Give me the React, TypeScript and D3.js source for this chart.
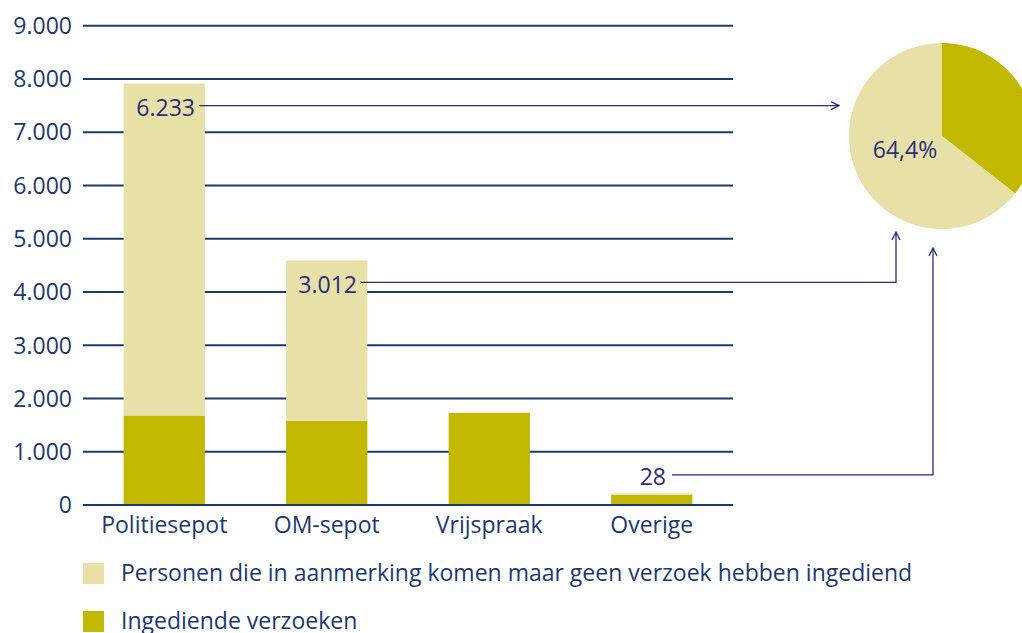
import * as d3 from 'd3'

const categories = ['Politiesepot', 'OM-sepot', 'Vrijspraak', 'Overige']
// Ingediende verzoeken (dark segment)
const ingediend = [1680, 1580, 1730, 190]
// Personen die in aanmerking komen maar geen verzoek hebben ingediend (light segment)
const geenVerzoek = [6233, 3012, 0, 28]
const yTicks = [0, 1000, 2000, 3000, 4000, 5000, 6000, 7000, 8000, 9000]
// pie shares: ingediend vs geen verzoek
const pieShares = [35.6, 64.4]
const pieLabel = '64,4%'
const legendLabels = [
  'Personen die in aanmerking komen maar geen verzoek hebben ingediend',
  'Ingediende verzoeken',
]

const DARK = '#c3b800'
const LIGHT = '#e7e1a7'
const AXIS = '#1c3870'
const NOTE = '#2b2c7c'
const FONT = '"Open Sans", "Noto Sans", sans-serif'
const FS = 23

const nl = d3.formatLocale({ decimal: ',', thousands: '.', grouping: [3], currency: ['€', ''] })
const fmt = nl.format(',d')

export default function App() {
  const width = 1022
  const height = 633
  const plot = { left: 83, right: 733, top: 25.7, bottom: 505 }

  const x = d3.scaleBand().domain(categories).range([plot.left, plot.right]).paddingInner(0.5).paddingOuter(0.25)
  const y = d3.scaleLinear().domain([0, 9000]).range([plot.bottom, plot.top])

  const pieC = { x: 942, y: 136, r: 93 }
  const arcs = d3.pie<number>().sort(null).value((d) => d)(pieShares)
  const arcGen = d3.arc<d3.PieArcDatum<number>>().innerRadius(0).outerRadius(pieC.r)

  // annotation anchors (label positions taken from bar tops)
  const cx = (c: string) => (x(c) || 0) + x.bandwidth() / 2
  const a1y = y(ingediend[0] + geenVerzoek[0]) + 24
  const a2y = y(ingediend[1] + geenVerzoek[1]) + 24
  const a3y = y(ingediend[3] + geenVerzoek[3]) - 17

  return (
    <svg width={width} height={height} style={{ position: 'absolute', left: 0, top: 0, background: '#fff' }} fontFamily={FONT}>
      <defs>
        <marker id="arr" viewBox="0 0 10 10" refX="9" refY="5" markerWidth="10" markerHeight="10" markerUnits="userSpaceOnUse" orient="auto">
          <path d="M1,1 L9,5 L1,9" fill="none" stroke={NOTE} strokeWidth={1.3} />
        </marker>
      </defs>

      {/* grid + y ticks */}
      {yTicks.map((t) => (
        <g key={t}>
          <line x1={plot.left} x2={plot.right} y1={y(t)} y2={y(t)} stroke={AXIS} strokeWidth={2} />
          <text x={72} y={y(t)} dy="0.36em" textAnchor="end" fontSize={FS} fill={AXIS}>
            {fmt(t)}
          </text>
        </g>
      ))}

      {/* bars */}
      {categories.map((c, i) => {
        const bx = x(c) || 0
        const bw = x.bandwidth()
        return (
          <g key={c}>
            <rect x={bx} width={bw} y={y(ingediend[i])} height={y(0) - y(ingediend[i]) - 1} fill={DARK} />
            {geenVerzoek[i] > 0 && (
              <rect
                x={bx}
                width={bw}
                y={y(ingediend[i] + geenVerzoek[i])}
                height={y(ingediend[i]) - y(ingediend[i] + geenVerzoek[i])}
                fill={LIGHT}
              />
            )}
            <text x={cx(c)} y={525} dy="0.36em" textAnchor="middle" fontSize={FS} fill={AXIS}>
              {c}
            </text>
          </g>
        )
      })}

      {/* pie */}
      <g transform={`translate(${pieC.x},${pieC.y})`}>
        {arcs.map((a, i) => (
          <path key={i} d={arcGen(a) || ''} fill={i === 0 ? DARK : LIGHT} />
        ))}
      </g>
      <text x={905} y={150} dy="0.36em" textAnchor="middle" fontSize={FS} fill={NOTE}>
        {pieLabel}
      </text>

      {/* annotations */}
      <text x={195} y={a1y} dy="0.36em" textAnchor="end" fontSize={FS} fill={NOTE}>
        {fmt(geenVerzoek[0])}
      </text>
      <line x1={199} x2={839} y1={a1y - 2} y2={a1y - 2} stroke={NOTE} strokeWidth={1.3} markerEnd="url(#arr)" />

      <text x={357} y={a2y} dy="0.36em" textAnchor="end" fontSize={FS} fill={NOTE}>
        {fmt(geenVerzoek[1])}
      </text>
      <polyline
        points={`361,${a2y - 2} 896,${a2y - 2} 896,232`}
        fill="none"
        stroke={NOTE}
        strokeWidth={1.3}
        markerEnd="url(#arr)"
      />

      <text x={666} y={a3y} dy="0.36em" textAnchor="end" fontSize={FS} fill={NOTE}>
        {fmt(geenVerzoek[3])}
      </text>
      <polyline
        points={`672,${a3y - 1.5} 933,${a3y - 1.5} 933,248`}
        fill="none"
        stroke={NOTE}
        strokeWidth={1.3}
        markerEnd="url(#arr)"
      />

      {/* legend */}
      {legendLabels.map((l, i) => (
        <g key={l} transform={`translate(83,${563 + i * 48})`}>
          <rect width={21} height={21} fill={i === 0 ? LIGHT : DARK} />
          <text x={38} y={10} dy="0.36em" fontSize={FS} fill={AXIS}>
            {l}
          </text>
        </g>
      ))}
    </svg>
  )
}
